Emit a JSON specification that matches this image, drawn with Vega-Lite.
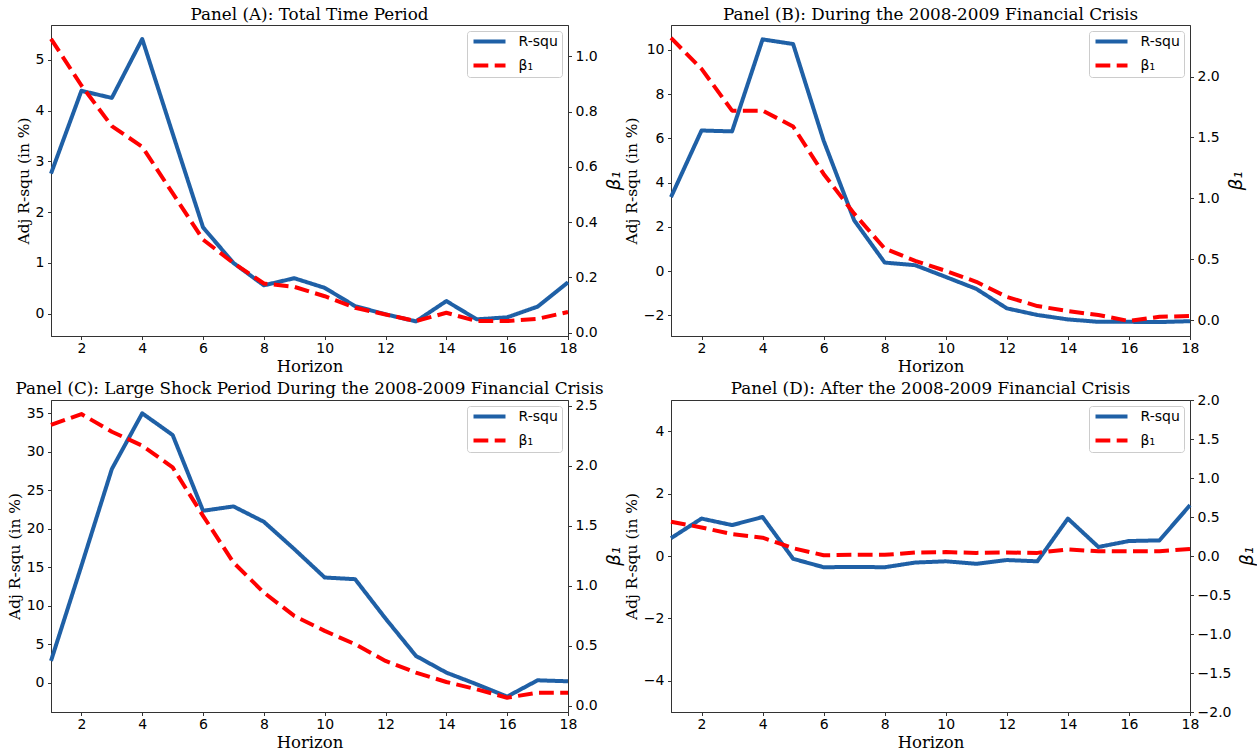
{
 "$schema": "https://vega.github.io/schema/vega-lite/v6.json",
 "background": "white",
 "padding": {"left": 6, "top": 6, "right": 0, "bottom": 0},
 "datasets": {
  "d": [
   {"p":"A","h":1,"rsq":2.76,"beta":1.064},{"p":"A","h":2,"rsq":4.39,"beta":0.895},{"p":"A","h":3,"rsq":4.25,"beta":0.748},{"p":"A","h":4,"rsq":5.41,"beta":0.673},{"p":"A","h":5,"rsq":3.55,"beta":0.505},{"p":"A","h":6,"rsq":1.70,"beta":0.337},{"p":"A","h":7,"rsq":1.00,"beta":0.252},{"p":"A","h":8,"rsq":0.56,"beta":0.178},{"p":"A","h":9,"rsq":0.70,"beta":0.166},{"p":"A","h":10,"rsq":0.51,"beta":0.132},{"p":"A","h":11,"rsq":0.15,"beta":0.090},{"p":"A","h":12,"rsq":-0.01,"beta":0.066},{"p":"A","h":13,"rsq":-0.15,"beta":0.042},{"p":"A","h":14,"rsq":0.25,"beta":0.072},{"p":"A","h":15,"rsq":-0.11,"beta":0.042},{"p":"A","h":16,"rsq":-0.07,"beta":0.042},{"p":"A","h":17,"rsq":0.14,"beta":0.050},{"p":"A","h":18,"rsq":0.62,"beta":0.075},
   {"p":"B","h":1,"rsq":3.35,"beta":2.317},{"p":"B","h":2,"rsq":6.36,"beta":2.063},{"p":"B","h":3,"rsq":6.32,"beta":1.72},{"p":"B","h":4,"rsq":10.48,"beta":1.72},{"p":"B","h":5,"rsq":10.27,"beta":1.59},{"p":"B","h":6,"rsq":5.9,"beta":1.20},{"p":"B","h":7,"rsq":2.3,"beta":0.874},{"p":"B","h":8,"rsq":0.39,"beta":0.587},{"p":"B","h":9,"rsq":0.27,"beta":0.486},{"p":"B","h":10,"rsq":-0.26,"beta":0.404},{"p":"B","h":11,"rsq":-0.80,"beta":0.314},{"p":"B","h":12,"rsq":-1.68,"beta":0.19},{"p":"B","h":13,"rsq":-1.98,"beta":0.115},{"p":"B","h":14,"rsq":-2.18,"beta":0.074},{"p":"B","h":15,"rsq":-2.29,"beta":0.041},{"p":"B","h":16,"rsq":-2.29,"beta":-0.008},{"p":"B","h":17,"rsq":-2.30,"beta":0.027},{"p":"B","h":18,"rsq":-2.26,"beta":0.033},
   {"p":"C","h":1,"rsq":2.82,"beta":2.339},{"p":"C","h":2,"rsq":15.18,"beta":2.43},{"p":"C","h":3,"rsq":27.75,"beta":2.283},{"p":"C","h":4,"rsq":35.0,"beta":2.167},{"p":"C","h":5,"rsq":32.18,"beta":1.986},{"p":"C","h":6,"rsq":22.33,"beta":1.583},{"p":"C","h":7,"rsq":22.9,"beta":1.194},{"p":"C","h":8,"rsq":20.9,"beta":0.944},{"p":"C","h":9,"rsq":17.35,"beta":0.75},{"p":"C","h":10,"rsq":13.66,"beta":0.625},{"p":"C","h":11,"rsq":13.44,"beta":0.514},{"p":"C","h":12,"rsq":8.33,"beta":0.375},{"p":"C","h":13,"rsq":3.47,"beta":0.278},{"p":"C","h":14,"rsq":1.3,"beta":0.2},{"p":"C","h":15,"rsq":-0.22,"beta":0.139},{"p":"C","h":16,"rsq":-1.82,"beta":0.069},{"p":"C","h":17,"rsq":0.3,"beta":0.111},{"p":"C","h":18,"rsq":0.17,"beta":0.111},
   {"p":"D","h":1,"rsq":0.57,"beta":0.44},{"p":"D","h":2,"rsq":1.2,"beta":0.366},{"p":"D","h":3,"rsq":0.99,"beta":0.28},{"p":"D","h":4,"rsq":1.25,"beta":0.235},{"p":"D","h":5,"rsq":-0.09,"beta":0.10},{"p":"D","h":6,"rsq":-0.36,"beta":0.01},{"p":"D","h":7,"rsq":-0.35,"beta":0.015},{"p":"D","h":8,"rsq":-0.36,"beta":0.015},{"p":"D","h":9,"rsq":-0.21,"beta":0.045},{"p":"D","h":10,"rsq":-0.17,"beta":0.05},{"p":"D","h":11,"rsq":-0.25,"beta":0.04},{"p":"D","h":12,"rsq":-0.13,"beta":0.045},{"p":"D","h":13,"rsq":-0.17,"beta":0.04},{"p":"D","h":14,"rsq":1.2,"beta":0.085},{"p":"D","h":15,"rsq":0.29,"beta":0.06},{"p":"D","h":16,"rsq":0.48,"beta":0.06},{"p":"D","h":17,"rsq":0.5,"beta":0.06},{"p":"D","h":18,"rsq":1.63,"beta":0.09}
  ]
 },
 "columns": 2,
 "bounds": "flush",
 "spacing": {"row": 64, "column": 103},
 "resolve": {"scale": {"x": "independent", "y": "independent", "color": "independent", "strokeDash": "independent"}, "legend": {"color": "independent", "strokeDash": "independent"}},
 "concat": [
  {
   "title": {"text": "Panel (A): Total Time Period", "offset": 1.5},
   "width": 517, "height": 311,
   "data": {"name": "d"},
   "transform": [{"filter": "datum.p == 'A'"}, {"fold": ["rsq", "beta"], "as": ["series", "value"]}],
   "encoding": {
    "x": {"field": "h", "type": "quantitative", "scale": {"domain": [1, 18], "nice": false, "zero": false}, "axis": {"values": [2,4,6,8,10,12,14,16,18], "title": "Horizon"}},
    "color": {"field": "series", "type": "nominal", "scale": {"domain": ["rsq", "beta"], "range": ["#1f60a6", "#ff0000"]}, "legend": {"title": null, "labelExpr": "datum.label == 'rsq' ? 'R-squ' : 'β₁'"}},
    "strokeDash": {"field": "series", "type": "nominal", "scale": {"domain": ["rsq", "beta"], "range": [[1, 0], [14.8, 6.4]]}, "legend": {"title": null, "labelExpr": "datum.label == 'rsq' ? 'R-squ' : 'β₁'"}}
   },
   "layer": [
    {"transform": [{"filter": "datum.series == 'rsq'"}], "mark": {"type": "line", "strokeWidth": 4, "strokeJoin": "round"},
     "encoding": {"y": {"field": "value", "type": "quantitative", "scale": {"domain": [-0.438, 5.686], "nice": false, "zero": false}, "axis": {"orient": "left", "values": [0,1,2,3,4,5], "format": "d", "title": "Adj R-squ (in %)"}}}},
    {"transform": [{"filter": "datum.series == 'beta'"}], "mark": {"type": "line", "strokeWidth": 4, "strokeJoin": "round"},
     "encoding": {"y": {"field": "value", "type": "quantitative", "scale": {"domain": [-0.012, 1.114], "nice": false, "zero": false}, "axis": {"orient": "right", "values": [0,0.2,0.4,0.6,0.8,1.0], "format": ".1f", "title": "β₁"}}}}
   ],
   "resolve": {"scale": {"y": "independent"}}
  },
  {
   "title": {"text": "Panel (B): During the 2008-2009 Financial Crisis", "offset": 1.5},
   "width": 519, "height": 311,
   "data": {"name": "d"},
   "transform": [{"filter": "datum.p == 'B'"}, {"fold": ["rsq", "beta"], "as": ["series", "value"]}],
   "encoding": {
    "x": {"field": "h", "type": "quantitative", "scale": {"domain": [1, 18], "nice": false, "zero": false}, "axis": {"values": [2,4,6,8,10,12,14,16,18], "title": "Horizon"}},
    "color": {"field": "series", "type": "nominal", "scale": {"domain": ["rsq", "beta"], "range": ["#1f60a6", "#ff0000"]}, "legend": {"title": null, "labelExpr": "datum.label == 'rsq' ? 'R-squ' : 'β₁'"}},
    "strokeDash": {"field": "series", "type": "nominal", "scale": {"domain": ["rsq", "beta"], "range": [[1, 0], [14.8, 6.4]]}, "legend": {"title": null, "labelExpr": "datum.label == 'rsq' ? 'R-squ' : 'β₁'"}}
   },
   "layer": [
    {"transform": [{"filter": "datum.series == 'rsq'"}], "mark": {"type": "line", "strokeWidth": 4, "strokeJoin": "round"},
     "encoding": {"y": {"field": "value", "type": "quantitative", "scale": {"domain": [-2.93, 11.13], "nice": false, "zero": false}, "axis": {"orient": "left", "values": [-2,0,2,4,6,8,10], "format": "d", "title": "Adj R-squ (in %)"}}}},
    {"transform": [{"filter": "datum.series == 'beta'"}], "mark": {"type": "line", "strokeWidth": 4, "strokeJoin": "round"},
     "encoding": {"y": {"field": "value", "type": "quantitative", "scale": {"domain": [-0.131, 2.4235], "nice": false, "zero": false}, "axis": {"orient": "right", "values": [0,0.5,1.0,1.5,2.0], "format": ".1f", "title": "β₁"}}}}
   ],
   "resolve": {"scale": {"y": "independent"}}
  },
  {
   "title": {"text": "Panel (C): Large Shock Period During the 2008-2009 Financial Crisis", "offset": 0.5},
   "width": 517, "height": 312,
   "data": {"name": "d"},
   "transform": [{"filter": "datum.p == 'C'"}, {"fold": ["rsq", "beta"], "as": ["series", "value"]}],
   "encoding": {
    "x": {"field": "h", "type": "quantitative", "scale": {"domain": [1, 18], "nice": false, "zero": false}, "axis": {"values": [2,4,6,8,10,12,14,16,18], "title": "Horizon"}},
    "color": {"field": "series", "type": "nominal", "scale": {"domain": ["rsq", "beta"], "range": ["#1f60a6", "#ff0000"]}, "legend": {"title": null, "labelExpr": "datum.label == 'rsq' ? 'R-squ' : 'β₁'"}},
    "strokeDash": {"field": "series", "type": "nominal", "scale": {"domain": ["rsq", "beta"], "range": [[1, 0], [14.8, 6.4]]}, "legend": {"title": null, "labelExpr": "datum.label == 'rsq' ? 'R-squ' : 'β₁'"}}
   },
   "layer": [
    {"transform": [{"filter": "datum.series == 'rsq'"}], "mark": {"type": "line", "strokeWidth": 4, "strokeJoin": "round"},
     "encoding": {"y": {"field": "value", "type": "quantitative", "scale": {"domain": [-3.82, 36.73], "nice": false, "zero": false}, "axis": {"orient": "left", "values": [0,5,10,15,20,25,30,35], "format": "d", "title": "Adj R-squ (in %)"}}}},
    {"transform": [{"filter": "datum.series == 'beta'"}], "mark": {"type": "line", "strokeWidth": 4, "strokeJoin": "round"},
     "encoding": {"y": {"field": "value", "type": "quantitative", "scale": {"domain": [-0.05, 2.547], "nice": false, "zero": false}, "axis": {"orient": "right", "values": [0,0.5,1.0,1.5,2.0,2.5], "format": ".1f", "title": "β₁"}}}}
   ],
   "resolve": {"scale": {"y": "independent"}}
  },
  {
   "title": {"text": "Panel (D): After the 2008-2009 Financial Crisis", "offset": -4.5},
   "width": 519, "height": 312,
   "data": {"name": "d"},
   "transform": [{"filter": "datum.p == 'D'"}, {"fold": ["rsq", "beta"], "as": ["series", "value"]}],
   "encoding": {
    "x": {"field": "h", "type": "quantitative", "scale": {"domain": [1, 18], "nice": false, "zero": false}, "axis": {"values": [2,4,6,8,10,12,14,16,18], "title": "Horizon"}},
    "color": {"field": "series", "type": "nominal", "scale": {"domain": ["rsq", "beta"], "range": ["#1f60a6", "#ff0000"]}, "legend": {"title": null, "labelExpr": "datum.label == 'rsq' ? 'R-squ' : 'β₁'"}},
    "strokeDash": {"field": "series", "type": "nominal", "scale": {"domain": ["rsq", "beta"], "range": [[1, 0], [14.8, 6.4]]}, "legend": {"title": null, "labelExpr": "datum.label == 'rsq' ? 'R-squ' : 'β₁'"}}
   },
   "layer": [
    {"transform": [{"filter": "datum.series == 'rsq'"}], "mark": {"type": "line", "strokeWidth": 4, "strokeJoin": "round"},
     "encoding": {"y": {"field": "value", "type": "quantitative", "scale": {"domain": [-5, 5], "nice": false, "zero": false}, "axis": {"orient": "left", "values": [-4,-2,0,2,4], "format": "d", "title": "Adj R-squ (in %)"}}}},
    {"transform": [{"filter": "datum.series == 'beta'"}], "mark": {"type": "line", "strokeWidth": 4, "strokeJoin": "round"},
     "encoding": {"y": {"field": "value", "type": "quantitative", "scale": {"domain": [-2, 2], "nice": false, "zero": false}, "axis": {"orient": "right", "values": [-2,-1.5,-1,-0.5,0,0.5,1,1.5,2], "format": ".1f", "title": "β₁"}}}}
   ],
   "resolve": {"scale": {"y": "independent"}}
  }
 ],
 "config": {
  "view": {"stroke": "#333333", "strokeWidth": 1},
  "axis": {"domainColor": "#333333", "tickColor": "#333333", "tickSize": 3.5, "labelPadding": 3.5, "labelFont": "DejaVu Sans", "labelFontSize": 14, "labelColor": "black", "titleFont": "DejaVu Serif", "titleFontSize": 16.5, "titleFontWeight": "normal", "titleColor": "black", "titlePadding": 4, "grid": false, "labelFlush": false, "labelOverlap": false},
  "axisX": {"titlePadding": 3, "labelPadding": 2},
  "axisLeft": {"titleFontSize": 15.5, "titlePadding": 4},
  "axisRight": {"titleFont": "DejaVu Sans", "titleFontStyle": "italic", "titleFontSize": 18, "titleAngle": 270, "titlePadding": 26},
  "title": {"font": "DejaVu Serif", "fontSize": 16.8, "fontWeight": "normal", "color": "black", "anchor": "middle", "frame": "group", "baseline": "alphabetic"},
  "legend": {"labelFont": "DejaVu Sans", "labelFontSize": 14, "labelColor": "black", "orient": "top-right", "offset": 6, "symbolType": "M-1,0H7", "symbolSize": 64, "symbolStrokeWidth": 4, "labelOffset": 34, "padding": 3.5, "strokeColor": "#cccccc", "cornerRadius": 3, "fillColor": "white", "rowPadding": 8}
 }
}
